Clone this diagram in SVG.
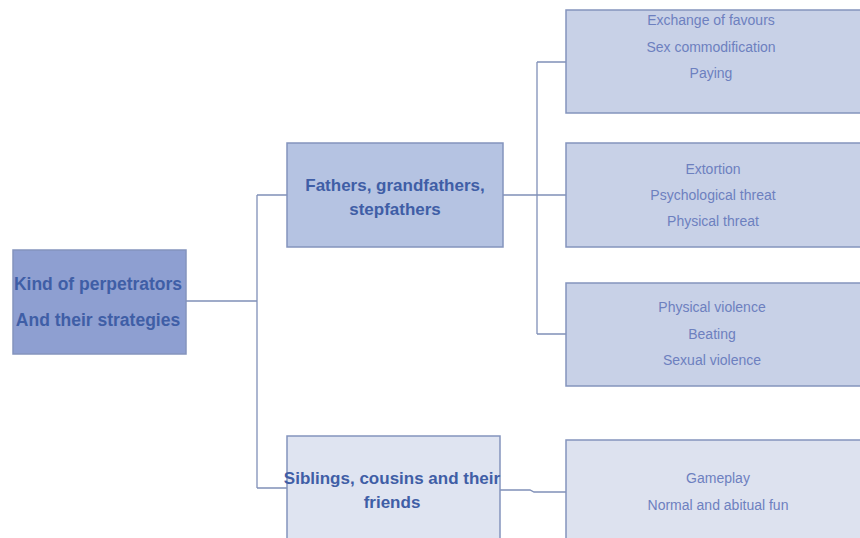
<svg xmlns="http://www.w3.org/2000/svg" width="860" height="538" viewBox="0 0 860 538">
<style>
.box{stroke:#8494bd;stroke-width:1.5}
.h{font-family:"Liberation Sans",Arial,sans-serif;font-weight:bold;font-size:17px;fill:#3f5ea6;text-anchor:middle}
.t{font-family:"Liberation Sans",Arial,sans-serif;font-size:14px;fill:#6d80bf;text-anchor:middle}
.c{fill:none;stroke:#8090b8;stroke-width:1.3}
</style>
<rect width="860" height="538" fill="#ffffff"/>
<g id="connectors">
<path class="c" d="M186,301 H257 M257,195 V488 M257,195 H287 M257,488 H287"/>
<path class="c" d="M503,195 H537 M537,62 V334 M537,62 H566 M537,195 H566 M537,334 H566"/>
<path class="c" d="M500,490 H530 L534,492 H566"/>
</g>
<g id="root">
<rect class="box" x="13" y="250" width="173" height="104" fill="#8e9fd1"/>
<text class="h" x="98" y="290" style="font-size:17.5px">Kind of perpetrators</text>
<text class="h" x="98" y="326" style="font-size:17.5px">And their strategies</text>
</g>
<g id="fathers">
<rect class="box" x="287" y="143" width="216" height="104" fill="#b5c3e2"/>
<text class="h" x="395" y="191">Fathers, grandfathers,</text>
<text class="h" x="395" y="215">stepfathers</text>
</g>
<g id="siblings">
<rect class="box" x="287" y="436" width="213" height="110" fill="#dfe4f1"/>
<text class="h" x="392" y="484">Siblings, cousins and their</text>
<text class="h" x="392" y="508">friends</text>
</g>
<g id="favours">
<rect class="box" x="566" y="10" width="300" height="103" fill="#c8d1e7"/>
<text class="t" x="711" y="25">Exchange of favours</text>
<text class="t" x="711" y="52">Sex commodification</text>
<text class="t" x="711" y="78">Paying</text>
</g>
<g id="threat">
<rect class="box" x="566" y="143" width="300" height="104" fill="#c8d1e7"/>
<text class="t" x="713" y="174">Extortion</text>
<text class="t" x="713" y="200">Psychological threat</text>
<text class="t" x="713" y="226">Physical threat</text>
</g>
<g id="violence">
<rect class="box" x="566" y="283" width="300" height="103" fill="#c8d1e7"/>
<text class="t" x="712" y="312">Physical violence</text>
<text class="t" x="712" y="339">Beating</text>
<text class="t" x="712" y="365">Sexual violence</text>
</g>
<g id="gameplay">
<rect class="box" x="566" y="440" width="300" height="110" fill="#dde2ef"/>
<text class="t" x="718" y="483">Gameplay</text>
<text class="t" x="718" y="510">Normal and abitual fun</text>
</g>
</svg>
